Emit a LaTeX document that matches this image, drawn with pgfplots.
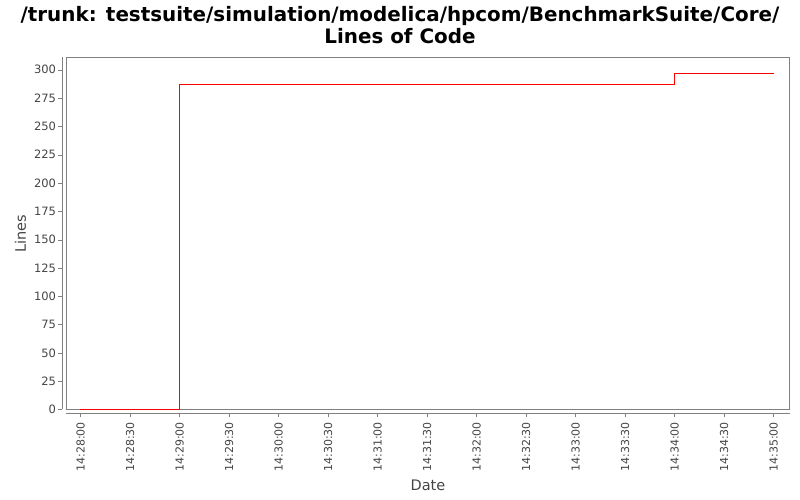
\documentclass[border=0pt]{standalone}
\usepackage{fontspec}
\setmainfont{DejaVu Sans}
\usepackage{pgfplots}
\pgfplotsset{compat=1.18}
\definecolor{axisgray}{HTML}{808080}
\definecolor{labelgray}{HTML}{444444}
\definecolor{linered}{HTML}{FF0000}

\begin{document}
\begin{tikzpicture}[x=1pt,y=1pt]
\path[use as bounding box] (0,0) rectangle (800,500);
\node[font=\bfseries\fontsize{19.9}{22}\selectfont, align=center] at (400,475)
  {/trunk: testsuite/simulation/modelica/hpcom/BenchmarkSuite/Core/\\Lines of Code};
\begin{axis}[
    at={(66.5pt,90.5pt)}, anchor=south west,
    scale only axis, width=723pt, height=352pt,
    xmin=-8.485, xmax=429.7, ymin=0, ymax=310.85,
    clip=false,
    axis line style={draw=axisgray, line width=1pt},
    tick align=outside, major tick length=4pt,
    xtick pos=bottom, ytick pos=left,
    x tick style={draw=axisgray, yshift=-4pt},
    y tick style={draw=axisgray, xshift=-4pt},
    xtick={0,30,...,420},
    xticklabels={14:28:00,14:28:30,14:29:00,14:29:30,14:30:00,14:30:30,14:31:00,14:31:30,14:32:00,14:32:30,14:33:00,14:33:30,14:34:00,14:34:30,14:35:00},
    ytick={0,25,...,300},
    /pgf/number format/assume math mode=true,
    xticklabel style={font=\fontsize{11}{12}\selectfont, text=labelgray, rotate=90, anchor=east, xshift=-5pt},
    yticklabel style={font=\fontsize{11.5}{12}\selectfont, text=labelgray, xshift=-3pt},
    xlabel={Date}, ylabel={Lines},
    xlabel style={font=\fontsize{14.5}{16}\selectfont, text=labelgray, at={(axis description cs:0.5,-0.216)}, anchor=center},
    ylabel style={font=\fontsize{14.5}{16}\selectfont, text=labelgray, at={(axis description cs:-0.0636,0.5)}, anchor=center},
]
\addplot[linered, mark=none, line width=1pt] coordinates {
    (0,0) (60,0) (60,287) (360,287) (360,297) (420,297)
};
\draw[axisgray, line width=1pt] ([xshift=-4pt]rel axis cs:0,0) -- ([xshift=-4pt]rel axis cs:0,1);
\draw[axisgray, line width=1pt] ([yshift=-4pt]rel axis cs:0,0) -- ([yshift=-4pt]rel axis cs:1,0);
\end{axis}
\end{tikzpicture}
\end{document}
